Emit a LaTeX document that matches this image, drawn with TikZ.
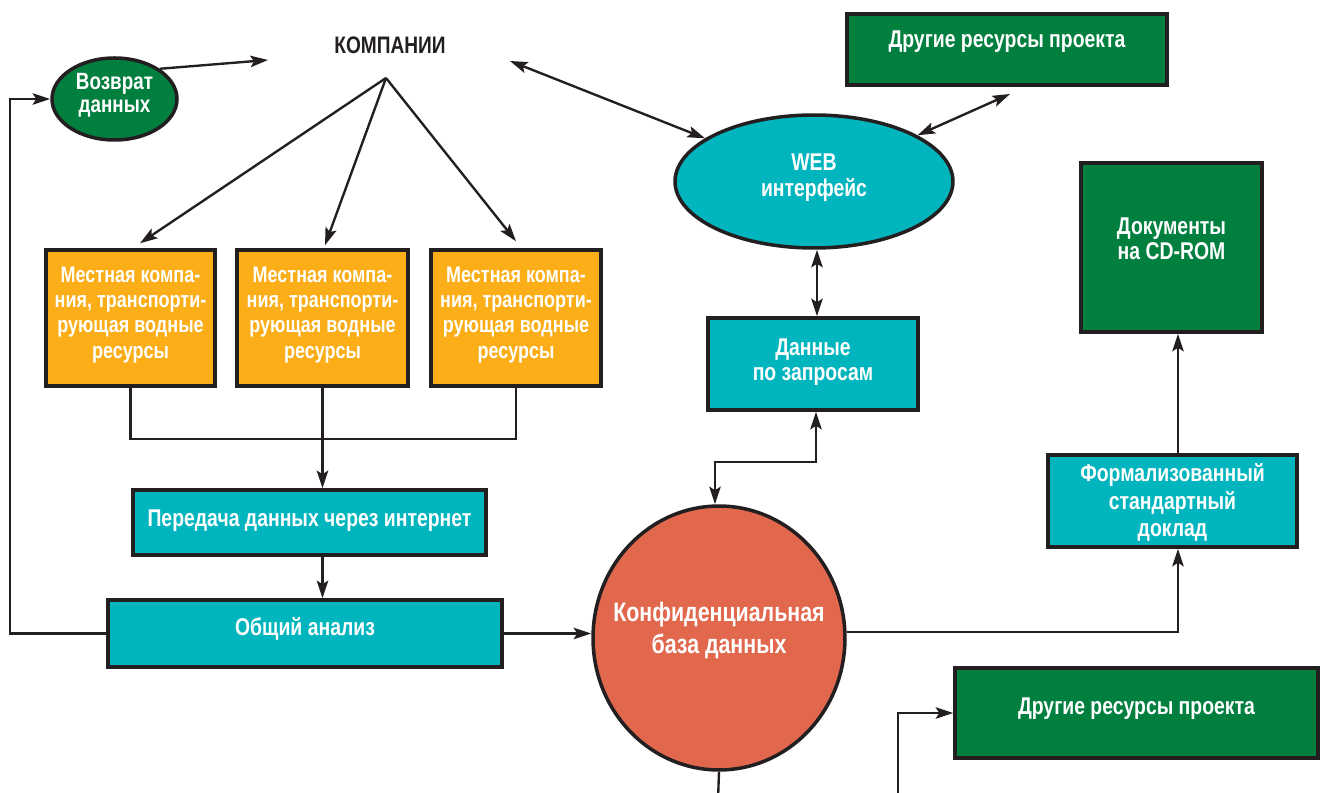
\documentclass[tikz,border=0pt]{standalone}
\usepackage{fontspec}
\setmainfont{Liberation Sans}[FakeStretch=0.80]
\usetikzlibrary{arrows.meta,shapes.geometric}
\definecolor{orng}{HTML}{FBAE17}
\definecolor{tealc}{HTML}{00B5BD}
\definecolor{grn}{HTML}{007F3E}
\definecolor{coral}{HTML}{E2684D}
\definecolor{ink}{HTML}{231F20}
\newcommand\tx[2][0pt]{\raisebox{#1}[0pt][0pt]{\makebox[0pt]{\begin{tabular}{@{}c@{}}#2\end{tabular}}}}
\tikzset{
  shp/.style={draw=ink, line width=2pt, inner sep=0pt, text=white,
    font=\bfseries\fontsize{13.8}{14.2}\selectfont},
  rbox/.style={shp, rectangle},
  obox/.style={rbox, fill=orng, font=\bfseries\fontsize{12.8}{14.4}\selectfont},
  tbox/.style={rbox, fill=tealc},
  gbox/.style={rbox, fill=grn},
  ell/.style={shp, ellipse},
  con/.style={draw=ink, line width=1.35pt},
  arr/.style={con, -{Stealth[length=10pt,width=6.5pt,inset=2pt]}},
  darr/.style={con, {Stealth[length=10pt,width=6.5pt,inset=2pt]}-{Stealth[length=10pt,width=6.5pt,inset=2pt]}},
}
\begin{document}
\begin{tikzpicture}[x=0.02cm,y=-0.02cm]
\useasboundingbox (0,0) rectangle (1320,793);
% nodes
\node[font=\bfseries\fontsize{13.6}{15}\selectfont, text=ink] (komp) at (390,45) {КОМПАНИИ};
\node[ell, fill=grn, minimum width=2.5cm, minimum height=1.64cm, font=\bfseries\fontsize{13.4}{13}\selectfont] (vd) at (114.5,99) {\tx[-2.1pt]{Возврат\\данных}};
\node[obox, minimum width=3.38cm, minimum height=2.72cm] (o1) at (130.5,318) {\tx[-1.4pt]{Местная компа-\\ния, транспорти-\\рующая водные\\ресурсы}};
\node[obox, minimum width=3.42cm, minimum height=2.72cm] (o2) at (322.5,318) {\tx[-1.4pt]{Местная компа-\\ния, транспорти-\\рующая водные\\ресурсы}};
\node[obox, minimum width=3.4cm, minimum height=2.72cm] (o3) at (516,318) {\tx[-1.4pt]{Местная компа-\\ния, транспорти-\\рующая водные\\ресурсы}};
\node[tbox, minimum width=7.06cm, minimum height=1.3cm] (pd) at (309.5,522.5) {\tx[-3pt]{Передача данных через интернет}};
\node[tbox, minimum width=7.88cm, minimum height=1.34cm] (oa) at (305,633.5) {\tx[-1.7pt]{Общий анализ}};
\node[ell, fill=coral, minimum width=5.04cm, minimum height=5.28cm, font=\bfseries\fontsize{15.2}{18}\selectfont] (db) at (719,638) {\tx[0.2pt]{Конфиденциальная\\база данных}};
\node[ell, fill=tealc, minimum width=5.56cm, minimum height=2.66cm] (web) at (814,181.5) {\tx[-1.8pt]{WEB\\интерфейс}};
\node[gbox, minimum width=6.4cm, minimum height=1.42cm] (dr1) at (1007,49.5) {\tx[0.2pt]{Другие ресурсы проекта}};
\node[tbox, minimum width=4.2cm, minimum height=1.84cm] (dz) at (813,364) {\tx[-3pt]{Данные\\по запросам}};
\node[gbox, minimum width=3.62cm, minimum height=3.38cm] (doc) at (1171.5,247.5) {\tx[-0.6pt]{Документы\\на CD-ROM}};
\node[tbox, minimum width=4.98cm, minimum height=1.84cm, font=\bfseries\fontsize{13.8}{15.6}\selectfont] (fs) at (1172.5,501) {\tx[-5.2pt]{Формализованный\\стандартный\\доклад}};
\node[gbox, minimum width=7.26cm, minimum height=1.8cm] (dr2) at (1136.5,713) {\tx[-1.7pt]{Другие ресурсы проекта}};
% free ends
\coordinate (ka) at (268,60);
\coordinate (kapex) at (386,78);
\coordinate (kr) at (510,61);
\coordinate (gtip) at (1010,94);
\coordinate (b1) at (718,800);
\coordinate (b2) at (898,800);
% connectors
\draw[arr] (vd.north east) -- (ka);
\draw[arr] (kapex) -- ([xshift=0.19cm,yshift=0.1cm]o1.north);
\draw[arr] (kapex) -- ([xshift=0.05cm,yshift=0.06cm]o2.north);
\draw[arr] (kapex) -- ([yshift=0.14cm]o3.north);
\draw[darr] (kr) -- (web);
\draw[darr] (web) -- (gtip);
\draw[con] (o1.south) -- ++(0,51) -| (o3.south);
\draw[arr] (o2.south) -- (o2.south |- pd.north);
\draw[arr] (pd.south -| o2.south) -- (o2.south |- oa.north);
\draw[arr] (oa.west) -- ++(-96,0) |- (vd.west);
\draw[arr] (oa.east) -- (oa.east -| db.west);
\draw[darr] ([xshift=0.06cm]web.south) -- ([xshift=0.06cm]web.south |- dz.north);
\draw[darr] ([xshift=0.06cm]dz.south) -- ++(0,50) -| ([xshift=-0.08cm]db.north);
\draw[arr] ([yshift=0.12cm]db.east) -| ([xshift=0.11cm]fs.south);
\draw[arr] ([xshift=0.11cm]fs.north) -- ([xshift=0.11cm]fs.north |- doc.south);
\draw[con] (db.south) -- (b1);
\draw[arr] (b2) |- (dr2.west);
\end{tikzpicture}
\end{document}
